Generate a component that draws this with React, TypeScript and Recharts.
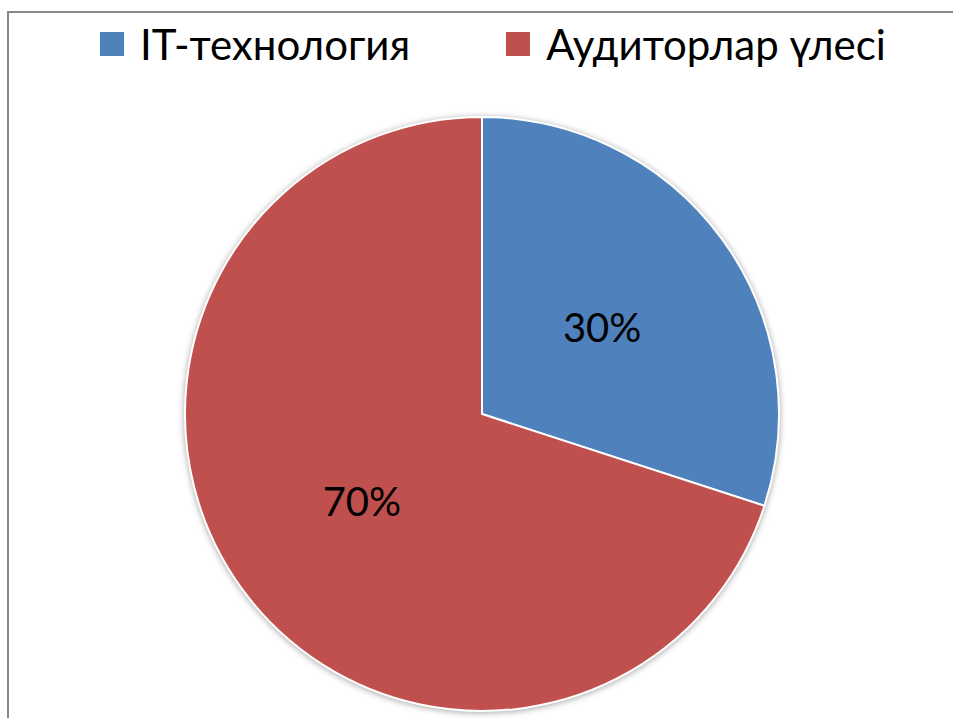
import { Legend, Pie, PieChart } from "recharts"

const names = ["IT-технология", "Аудиторлар үлесі"]
const shares = [30, 70]
const colors = ["#4F81BD", "#C0504D"]

const data = names.map((name, i) => ({ name, value: shares[i], fill: colors[i] }))

const RADIAN = Math.PI / 180

const renderLabel = (props: any) => {
  const { cx, cy, midAngle, outerRadius, percent } = props
  const r = outerRadius * 0.5
  const x = cx + r * Math.cos(-midAngle * RADIAN)
  const y = cy + r * Math.sin(-midAngle * RADIAN)
  return (
    <text
      x={x}
      y={y}
      fill="#000"
      textAnchor="middle"
      dominantBaseline="central"
      fontSize={40}
      fontFamily="Lato, sans-serif"
    >
      {`${Math.round(percent * 100)}%`}
    </text>
  )
}

const renderLegend = (props: any) => {
  const { payload } = props
  return (
    <div style={{ display: "flex", alignItems: "center", fontFamily: "Lato, sans-serif", fontSize: 42, color: "#000" }}>
      {payload.map((entry: any, i: number) => (
        <div key={i} style={{ display: "flex", alignItems: "center", marginRight: 96 }}>
          <span style={{ display: "inline-block", width: 24, height: 24, background: entry.color, marginRight: 16 }} />
          <span style={{ whiteSpace: "nowrap" }}>{entry.value}</span>
        </div>
      ))}
    </div>
  )
}

export default function App() {
  return (
    <div style={{ position: "fixed", left: 0, top: 0, width: 953, height: 718, overflow: "hidden", background: "#fff" }}>
      <style>{`.recharts-pie { filter: drop-shadow(0px 1px 3px rgba(0,0,0,0.35)); }`}</style>
      <div
        style={{
          position: "absolute",
          left: 7,
          top: 11,
          width: 1000,
          height: 800,
          border: "2px solid #878787",
          boxSizing: "border-box",
        }}
      />
      <div style={{ position: "absolute", left: 0, top: 0 }}>
        <PieChart width={953} height={718} margin={{ top: 0, right: 0, bottom: 0, left: 0 }}>
          <Legend
            content={renderLegend}
            wrapperStyle={{ position: "absolute", top: 19, left: 100, width: "auto" }}
          />
          <Pie
            data={data}
            dataKey="value"
            nameKey="name"
            cx={482}
            cy={414}
            outerRadius={297}
            startAngle={90}
            endAngle={-270}
            stroke="#fff"
            strokeWidth={2}
            label={renderLabel}
            labelLine={false}
            legendType="square"
            isAnimationActive={false}
          />
        </PieChart>
      </div>
    </div>
  )
}
